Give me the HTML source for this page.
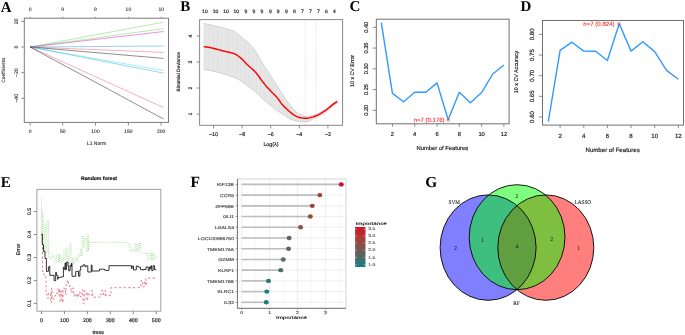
<!DOCTYPE html>
<html><head><meta charset="utf-8"><style>
html,body{margin:0;padding:0;background:#fff;width:685px;height:335px;overflow:hidden}
svg{display:block}

</style></head><body>
<svg width="685" height="335" viewBox="0 0 685 335" style="will-change:transform" text-rendering="geometricPrecision">
<g>
<text x="0.70" y="11.50" font-size="15" text-anchor="start" fill="#000" font-weight="bold" font-family="Liberation Serif">A</text>
<rect x="24.30" y="18.20" width="144.20" height="104.20" stroke="#7a7a7a" stroke-width="1.0" fill="none"/>
<line x1="30.10" y1="47.00" x2="163.60" y2="22.20" stroke="#61D04F" stroke-width="0.45"/>
<line x1="30.10" y1="47.00" x2="163.60" y2="28.60" stroke="#61D04F" stroke-width="0.45"/>
<line x1="30.10" y1="47.00" x2="163.60" y2="31.50" stroke="#CD0BBC" stroke-width="0.45"/>
<line x1="30.10" y1="47.00" x2="163.60" y2="46.00" stroke="#2297E6" stroke-width="0.45"/>
<line x1="30.10" y1="47.00" x2="163.60" y2="52.40" stroke="#DF536B" stroke-width="0.45"/>
<line x1="30.10" y1="47.00" x2="163.60" y2="58.40" stroke="#000000" stroke-width="0.45"/>
<line x1="30.10" y1="47.00" x2="163.60" y2="70.60" stroke="#28E2E5" stroke-width="0.45"/>
<line x1="30.10" y1="47.00" x2="163.60" y2="73.10" stroke="#2297E6" stroke-width="0.45"/>
<line x1="30.10" y1="47.00" x2="163.60" y2="107.60" stroke="#DF536B" stroke-width="0.45"/>
<line x1="30.10" y1="47.00" x2="163.60" y2="119.00" stroke="#000000" stroke-width="0.45"/>
<line x1="30.10" y1="122.40" x2="30.10" y2="125.60" stroke="#707070" stroke-width="0.8"/>
<text x="30.10" y="133.19" font-size="5.0" text-anchor="middle" fill="#222" font-weight="normal" font-family="Liberation Sans" stroke="#222" stroke-width="0.08">0</text>
<line x1="62.70" y1="122.40" x2="62.70" y2="125.60" stroke="#707070" stroke-width="0.8"/>
<text x="62.70" y="133.19" font-size="5.0" text-anchor="middle" fill="#222" font-weight="normal" font-family="Liberation Sans" stroke="#222" stroke-width="0.08">50</text>
<line x1="95.50" y1="122.40" x2="95.50" y2="125.60" stroke="#707070" stroke-width="0.8"/>
<text x="95.50" y="133.19" font-size="5.0" text-anchor="middle" fill="#222" font-weight="normal" font-family="Liberation Sans" stroke="#222" stroke-width="0.08">100</text>
<line x1="128.40" y1="122.40" x2="128.40" y2="125.60" stroke="#707070" stroke-width="0.8"/>
<text x="128.40" y="133.19" font-size="5.0" text-anchor="middle" fill="#222" font-weight="normal" font-family="Liberation Sans" stroke="#222" stroke-width="0.08">150</text>
<line x1="161.10" y1="122.40" x2="161.10" y2="125.60" stroke="#707070" stroke-width="0.8"/>
<text x="161.10" y="133.19" font-size="5.0" text-anchor="middle" fill="#222" font-weight="normal" font-family="Liberation Sans" stroke="#222" stroke-width="0.08">200</text>
<line x1="30.20" y1="18.20" x2="30.20" y2="16.90" stroke="#707070" stroke-width="0.7"/>
<text x="30.20" y="11.19" font-size="5.0" text-anchor="middle" fill="#222" font-weight="normal" font-family="Liberation Sans" stroke="#222" stroke-width="0.08">0</text>
<line x1="62.60" y1="18.20" x2="62.60" y2="16.90" stroke="#707070" stroke-width="0.7"/>
<text x="62.60" y="11.19" font-size="5.0" text-anchor="middle" fill="#222" font-weight="normal" font-family="Liberation Sans" stroke="#222" stroke-width="0.08">9</text>
<line x1="95.30" y1="18.20" x2="95.30" y2="16.90" stroke="#707070" stroke-width="0.7"/>
<text x="95.30" y="11.19" font-size="5.0" text-anchor="middle" fill="#222" font-weight="normal" font-family="Liberation Sans" stroke="#222" stroke-width="0.08">9</text>
<line x1="128.40" y1="18.20" x2="128.40" y2="16.90" stroke="#707070" stroke-width="0.7"/>
<text x="128.40" y="11.19" font-size="5.0" text-anchor="middle" fill="#222" font-weight="normal" font-family="Liberation Sans" stroke="#222" stroke-width="0.08">10</text>
<line x1="161.30" y1="18.20" x2="161.30" y2="16.90" stroke="#707070" stroke-width="0.7"/>
<text x="161.30" y="11.19" font-size="5.0" text-anchor="middle" fill="#222" font-weight="normal" font-family="Liberation Sans" stroke="#222" stroke-width="0.08">10</text>
<line x1="24.30" y1="21.40" x2="21.30" y2="21.40" stroke="#707070" stroke-width="0.8"/>
<text x="0" y="0" font-size="5.2" text-anchor="middle" fill="#222" font-weight="normal" font-family="Liberation Sans" transform="translate(17.56 21.40) rotate(-90)" stroke="#222" stroke-width="0.08">20</text>
<line x1="24.30" y1="47.00" x2="21.30" y2="47.00" stroke="#707070" stroke-width="0.8"/>
<text x="0" y="0" font-size="5.2" text-anchor="middle" fill="#222" font-weight="normal" font-family="Liberation Sans" transform="translate(17.56 47.00) rotate(-90)" stroke="#222" stroke-width="0.08">0</text>
<line x1="24.30" y1="72.70" x2="21.30" y2="72.70" stroke="#707070" stroke-width="0.8"/>
<text x="0" y="0" font-size="5.2" text-anchor="middle" fill="#222" font-weight="normal" font-family="Liberation Sans" transform="translate(17.56 72.70) rotate(-90)" stroke="#222" stroke-width="0.08">−20</text>
<line x1="24.30" y1="98.30" x2="21.30" y2="98.30" stroke="#707070" stroke-width="0.8"/>
<text x="0" y="0" font-size="5.2" text-anchor="middle" fill="#222" font-weight="normal" font-family="Liberation Sans" transform="translate(17.56 98.30) rotate(-90)" stroke="#222" stroke-width="0.08">−40</text>
<text x="0" y="0" font-size="4.8" text-anchor="middle" fill="#222" font-weight="normal" font-family="Liberation Sans" transform="translate(5.39 70.20) rotate(-90)" stroke="#222" stroke-width="0.08">Coefficients</text>
<text x="96.50" y="144.69" font-size="5.0" text-anchor="middle" fill="#222" font-weight="normal" font-family="Liberation Sans" stroke="#222" stroke-width="0.08">L1 Norm</text>
<text x="180.30" y="11.20" font-size="15" text-anchor="start" fill="#000" font-weight="bold" font-family="Liberation Serif">B</text>
<path d="M203.70,23.40 L206.28,23.96 L209.97,24.76 L214.11,25.68 L218.00,26.60 L221.76,27.56 L225.67,28.61 L229.24,29.60 L232.00,30.40 L233.63,30.90 L234.45,31.19 L234.94,31.47 L235.60,31.90 L236.50,32.56 L237.41,33.36 L238.31,34.19 L239.20,35.00 L240.08,35.75 L240.95,36.50 L241.82,37.25 L242.70,38.00 L243.59,38.76 L244.49,39.53 L245.40,40.31 L246.30,41.10 L247.20,41.90 L248.10,42.70 L249.00,43.53 L249.90,44.40 L250.81,45.32 L251.74,46.29 L252.64,47.28 L253.50,48.30 L254.28,49.28 L254.99,50.26 L255.71,51.33 L256.50,52.60 L257.36,54.16 L258.26,55.92 L259.20,57.77 L260.20,59.60 L261.28,61.41 L262.43,63.26 L263.58,65.08 L264.70,66.80 L265.77,68.39 L266.81,69.90 L267.83,71.36 L268.80,72.80 L269.68,74.17 L270.48,75.46 L271.31,76.83 L272.30,78.40 L273.50,80.26 L274.83,82.33 L276.23,84.48 L277.60,86.60 L278.99,88.74 L280.43,90.94 L281.80,93.05 L283.00,94.90 L283.93,96.39 L284.67,97.63 L285.38,98.77 L286.20,100.00 L287.18,101.37 L288.24,102.78 L289.33,104.17 L290.40,105.50 L291.43,106.76 L292.45,107.99 L293.47,109.14 L294.50,110.20 L295.54,111.15 L296.59,112.02 L297.65,112.80 L298.70,113.50 L299.78,114.12 L300.87,114.65 L301.93,115.11 L302.90,115.50 L303.75,115.82 L304.52,116.08 L305.26,116.26 L306.00,116.40 L306.74,116.48 L307.45,116.51 L308.19,116.48 L309.00,116.40 L309.89,116.26 L310.82,116.08 L311.83,115.82 L312.90,115.50 L314.07,115.09 L315.34,114.61 L316.63,114.07 L317.90,113.50 L319.13,112.89 L320.36,112.24 L321.58,111.54 L322.80,110.80 L324.02,110.02 L325.24,109.19 L326.47,108.32 L327.70,107.40 L328.95,106.38 L330.22,105.28 L331.48,104.18 L332.70,103.20 L333.99,102.30 L335.31,101.44 L336.48,100.71 L337.30,100.20 L337.30,103.20 L336.48,103.71 L335.31,104.42 L333.99,105.28 L332.70,106.20 L331.48,107.22 L330.22,108.37 L328.95,109.53 L327.70,110.60 L326.47,111.55 L325.24,112.45 L324.02,113.30 L322.80,114.10 L321.58,114.87 L320.36,115.59 L319.13,116.27 L317.90,116.90 L316.63,117.47 L315.34,117.99 L314.07,118.48 L312.90,119.00 L311.83,119.58 L310.82,120.20 L309.89,120.77 L309.00,121.20 L308.24,121.46 L307.58,121.59 L306.88,121.65 L306.00,121.70 L304.88,121.76 L303.61,121.80 L302.23,121.79 L300.80,121.70 L299.26,121.52 L297.61,121.26 L295.97,120.95 L294.50,120.60 L293.26,120.23 L292.18,119.84 L291.13,119.37 L290.00,118.80 L288.81,118.12 L287.61,117.35 L286.30,116.48 L284.80,115.50 L283.02,114.38 L281.02,113.14 L278.96,111.83 L277.00,110.50 L275.19,109.17 L273.46,107.80 L271.71,106.38 L269.90,104.90 L267.96,103.33 L265.95,101.68 L263.94,99.99 L262.00,98.30 L260.19,96.57 L258.45,94.81 L256.71,93.06 L254.90,91.40 L252.96,89.84 L250.94,88.34 L248.93,86.90 L247.00,85.50 L245.15,84.11 L243.36,82.76 L241.63,81.49 L240.00,80.40 L238.59,79.55 L237.35,78.89 L236.03,78.28 L234.40,77.60 L232.33,76.80 L229.98,75.94 L227.48,75.09 L225.00,74.30 L222.57,73.57 L220.12,72.88 L217.61,72.23 L215.00,71.60 L212.00,70.96 L208.72,70.33 L205.76,69.78 L203.70,69.40Z" fill="#f2f2f2" stroke="none"/>
<line x1="204.00" y1="23.47" x2="204.00" y2="69.46" stroke="#cbcbcb" stroke-width="0.45"/>
<line x1="205.35" y1="23.76" x2="205.35" y2="69.71" stroke="#cbcbcb" stroke-width="0.45"/>
<line x1="206.69" y1="24.05" x2="206.69" y2="69.96" stroke="#cbcbcb" stroke-width="0.45"/>
<line x1="208.04" y1="24.34" x2="208.04" y2="70.20" stroke="#cbcbcb" stroke-width="0.45"/>
<line x1="209.39" y1="24.63" x2="209.39" y2="70.46" stroke="#cbcbcb" stroke-width="0.45"/>
<line x1="210.73" y1="24.93" x2="210.73" y2="70.72" stroke="#cbcbcb" stroke-width="0.45"/>
<line x1="212.08" y1="25.23" x2="212.08" y2="70.98" stroke="#cbcbcb" stroke-width="0.45"/>
<line x1="213.43" y1="25.53" x2="213.43" y2="71.27" stroke="#cbcbcb" stroke-width="0.45"/>
<line x1="214.77" y1="25.84" x2="214.77" y2="71.55" stroke="#cbcbcb" stroke-width="0.45"/>
<line x1="216.12" y1="26.16" x2="216.12" y2="71.87" stroke="#cbcbcb" stroke-width="0.45"/>
<line x1="217.46" y1="26.47" x2="217.46" y2="72.19" stroke="#cbcbcb" stroke-width="0.45"/>
<line x1="218.81" y1="26.81" x2="218.81" y2="72.54" stroke="#cbcbcb" stroke-width="0.45"/>
<line x1="220.16" y1="27.15" x2="220.16" y2="72.89" stroke="#cbcbcb" stroke-width="0.45"/>
<line x1="221.50" y1="27.50" x2="221.50" y2="73.27" stroke="#cbcbcb" stroke-width="0.45"/>
<line x1="222.85" y1="27.85" x2="222.85" y2="73.65" stroke="#cbcbcb" stroke-width="0.45"/>
<line x1="224.20" y1="28.21" x2="224.20" y2="74.06" stroke="#cbcbcb" stroke-width="0.45"/>
<line x1="225.54" y1="28.57" x2="225.54" y2="74.47" stroke="#cbcbcb" stroke-width="0.45"/>
<line x1="226.89" y1="28.95" x2="226.89" y2="74.91" stroke="#cbcbcb" stroke-width="0.45"/>
<line x1="228.24" y1="29.32" x2="228.24" y2="75.35" stroke="#cbcbcb" stroke-width="0.45"/>
<line x1="229.58" y1="29.70" x2="229.58" y2="75.81" stroke="#cbcbcb" stroke-width="0.45"/>
<line x1="230.93" y1="30.09" x2="230.93" y2="76.29" stroke="#cbcbcb" stroke-width="0.45"/>
<line x1="232.28" y1="30.48" x2="232.28" y2="76.78" stroke="#cbcbcb" stroke-width="0.45"/>
<line x1="233.62" y1="30.90" x2="233.62" y2="77.30" stroke="#cbcbcb" stroke-width="0.45"/>
<line x1="234.97" y1="31.48" x2="234.97" y2="77.84" stroke="#cbcbcb" stroke-width="0.45"/>
<line x1="236.32" y1="32.43" x2="236.32" y2="78.41" stroke="#cbcbcb" stroke-width="0.45"/>
<line x1="237.66" y1="33.59" x2="237.66" y2="79.05" stroke="#cbcbcb" stroke-width="0.45"/>
<line x1="239.01" y1="34.83" x2="239.01" y2="79.80" stroke="#cbcbcb" stroke-width="0.45"/>
<line x1="240.35" y1="35.99" x2="240.35" y2="80.64" stroke="#cbcbcb" stroke-width="0.45"/>
<line x1="241.70" y1="37.14" x2="241.70" y2="81.55" stroke="#cbcbcb" stroke-width="0.45"/>
<line x1="243.05" y1="38.30" x2="243.05" y2="82.53" stroke="#cbcbcb" stroke-width="0.45"/>
<line x1="244.39" y1="39.45" x2="244.39" y2="83.54" stroke="#cbcbcb" stroke-width="0.45"/>
<line x1="245.74" y1="40.61" x2="245.74" y2="84.55" stroke="#cbcbcb" stroke-width="0.45"/>
<line x1="247.09" y1="41.80" x2="247.09" y2="85.56" stroke="#cbcbcb" stroke-width="0.45"/>
<line x1="248.43" y1="43.01" x2="248.43" y2="86.54" stroke="#cbcbcb" stroke-width="0.45"/>
<line x1="249.78" y1="44.28" x2="249.78" y2="87.50" stroke="#cbcbcb" stroke-width="0.45"/>
<line x1="251.13" y1="45.65" x2="251.13" y2="88.47" stroke="#cbcbcb" stroke-width="0.45"/>
<line x1="252.47" y1="47.10" x2="252.47" y2="89.47" stroke="#cbcbcb" stroke-width="0.45"/>
<line x1="253.82" y1="48.70" x2="253.82" y2="90.53" stroke="#cbcbcb" stroke-width="0.45"/>
<line x1="255.17" y1="50.51" x2="255.17" y2="91.64" stroke="#cbcbcb" stroke-width="0.45"/>
<line x1="256.51" y1="52.62" x2="256.51" y2="92.88" stroke="#cbcbcb" stroke-width="0.45"/>
<line x1="257.86" y1="55.14" x2="257.86" y2="94.21" stroke="#cbcbcb" stroke-width="0.45"/>
<line x1="259.21" y1="57.78" x2="259.21" y2="95.57" stroke="#cbcbcb" stroke-width="0.45"/>
<line x1="260.55" y1="60.19" x2="260.55" y2="96.92" stroke="#cbcbcb" stroke-width="0.45"/>
<line x1="261.90" y1="62.41" x2="261.90" y2="98.20" stroke="#cbcbcb" stroke-width="0.45"/>
<line x1="263.24" y1="64.55" x2="263.24" y2="99.39" stroke="#cbcbcb" stroke-width="0.45"/>
<line x1="264.59" y1="66.63" x2="264.59" y2="100.54" stroke="#cbcbcb" stroke-width="0.45"/>
<line x1="265.94" y1="68.64" x2="265.94" y2="101.67" stroke="#cbcbcb" stroke-width="0.45"/>
<line x1="267.28" y1="70.58" x2="267.28" y2="102.77" stroke="#cbcbcb" stroke-width="0.45"/>
<line x1="268.63" y1="72.55" x2="268.63" y2="103.87" stroke="#cbcbcb" stroke-width="0.45"/>
<line x1="269.98" y1="74.66" x2="269.98" y2="104.96" stroke="#cbcbcb" stroke-width="0.45"/>
<line x1="271.32" y1="76.84" x2="271.32" y2="106.06" stroke="#cbcbcb" stroke-width="0.45"/>
<line x1="272.67" y1="78.98" x2="272.67" y2="107.16" stroke="#cbcbcb" stroke-width="0.45"/>
<line x1="274.02" y1="81.07" x2="274.02" y2="108.24" stroke="#cbcbcb" stroke-width="0.45"/>
<line x1="275.36" y1="83.15" x2="275.36" y2="109.29" stroke="#cbcbcb" stroke-width="0.45"/>
<line x1="276.71" y1="85.23" x2="276.71" y2="110.28" stroke="#cbcbcb" stroke-width="0.45"/>
<line x1="278.06" y1="87.30" x2="278.06" y2="111.22" stroke="#cbcbcb" stroke-width="0.45"/>
<line x1="279.40" y1="89.37" x2="279.40" y2="112.11" stroke="#cbcbcb" stroke-width="0.45"/>
<line x1="280.75" y1="91.43" x2="280.75" y2="112.97" stroke="#cbcbcb" stroke-width="0.45"/>
<line x1="282.09" y1="93.50" x2="282.09" y2="113.81" stroke="#cbcbcb" stroke-width="0.45"/>
<line x1="283.44" y1="95.61" x2="283.44" y2="114.65" stroke="#cbcbcb" stroke-width="0.45"/>
<line x1="284.79" y1="97.81" x2="284.79" y2="115.49" stroke="#cbcbcb" stroke-width="0.45"/>
<line x1="286.13" y1="99.90" x2="286.13" y2="116.37" stroke="#cbcbcb" stroke-width="0.45"/>
<line x1="287.48" y1="101.76" x2="287.48" y2="117.27" stroke="#cbcbcb" stroke-width="0.45"/>
<line x1="288.83" y1="103.52" x2="288.83" y2="118.13" stroke="#cbcbcb" stroke-width="0.45"/>
<line x1="290.17" y1="105.22" x2="290.17" y2="118.89" stroke="#cbcbcb" stroke-width="0.45"/>
<line x1="291.52" y1="106.87" x2="291.52" y2="119.54" stroke="#cbcbcb" stroke-width="0.45"/>
<line x1="292.87" y1="108.46" x2="292.87" y2="120.09" stroke="#cbcbcb" stroke-width="0.45"/>
<line x1="294.21" y1="109.91" x2="294.21" y2="120.52" stroke="#cbcbcb" stroke-width="0.45"/>
<line x1="295.56" y1="111.17" x2="295.56" y2="120.85" stroke="#cbcbcb" stroke-width="0.45"/>
<line x1="296.91" y1="112.25" x2="296.91" y2="121.13" stroke="#cbcbcb" stroke-width="0.45"/>
<line x1="298.25" y1="113.20" x2="298.25" y2="121.36" stroke="#cbcbcb" stroke-width="0.45"/>
<line x1="299.60" y1="114.02" x2="299.60" y2="121.56" stroke="#cbcbcb" stroke-width="0.45"/>
<line x1="300.95" y1="114.68" x2="300.95" y2="121.71" stroke="#cbcbcb" stroke-width="0.45"/>
<line x1="302.29" y1="115.25" x2="302.29" y2="121.79" stroke="#cbcbcb" stroke-width="0.45"/>
<line x1="303.64" y1="115.78" x2="303.64" y2="121.80" stroke="#cbcbcb" stroke-width="0.45"/>
<line x1="304.98" y1="116.19" x2="304.98" y2="121.76" stroke="#cbcbcb" stroke-width="0.45"/>
<line x1="306.33" y1="116.44" x2="306.33" y2="121.68" stroke="#cbcbcb" stroke-width="0.45"/>
<line x1="307.68" y1="116.50" x2="307.68" y2="121.57" stroke="#cbcbcb" stroke-width="0.45"/>
<line x1="309.02" y1="116.40" x2="309.02" y2="121.19" stroke="#cbcbcb" stroke-width="0.45"/>
<line x1="310.37" y1="116.17" x2="310.37" y2="120.47" stroke="#cbcbcb" stroke-width="0.45"/>
<line x1="311.72" y1="115.85" x2="311.72" y2="119.65" stroke="#cbcbcb" stroke-width="0.45"/>
<line x1="313.06" y1="115.44" x2="313.06" y2="118.93" stroke="#cbcbcb" stroke-width="0.45"/>
<line x1="314.41" y1="114.97" x2="314.41" y2="118.35" stroke="#cbcbcb" stroke-width="0.45"/>
<line x1="315.76" y1="114.44" x2="315.76" y2="117.82" stroke="#cbcbcb" stroke-width="0.45"/>
<line x1="317.10" y1="113.86" x2="317.10" y2="117.26" stroke="#cbcbcb" stroke-width="0.45"/>
<line x1="318.45" y1="113.23" x2="318.45" y2="116.62" stroke="#cbcbcb" stroke-width="0.45"/>
<line x1="319.80" y1="112.54" x2="319.80" y2="115.90" stroke="#cbcbcb" stroke-width="0.45"/>
<line x1="321.14" y1="111.79" x2="321.14" y2="115.12" stroke="#cbcbcb" stroke-width="0.45"/>
<line x1="322.49" y1="110.99" x2="322.49" y2="114.29" stroke="#cbcbcb" stroke-width="0.45"/>
<line x1="323.84" y1="110.14" x2="323.84" y2="113.42" stroke="#cbcbcb" stroke-width="0.45"/>
<line x1="325.18" y1="109.24" x2="325.18" y2="112.49" stroke="#cbcbcb" stroke-width="0.45"/>
<line x1="326.53" y1="108.28" x2="326.53" y2="111.51" stroke="#cbcbcb" stroke-width="0.45"/>
<line x1="327.87" y1="107.26" x2="327.87" y2="110.45" stroke="#cbcbcb" stroke-width="0.45"/>
<line x1="329.22" y1="106.14" x2="329.22" y2="109.28" stroke="#cbcbcb" stroke-width="0.45"/>
<line x1="330.57" y1="104.97" x2="330.57" y2="108.05" stroke="#cbcbcb" stroke-width="0.45"/>
<line x1="331.91" y1="103.83" x2="331.91" y2="106.86" stroke="#cbcbcb" stroke-width="0.45"/>
<line x1="333.26" y1="102.81" x2="333.26" y2="105.80" stroke="#cbcbcb" stroke-width="0.45"/>
<line x1="334.61" y1="101.89" x2="334.61" y2="104.88" stroke="#cbcbcb" stroke-width="0.45"/>
<line x1="335.95" y1="101.04" x2="335.95" y2="104.03" stroke="#cbcbcb" stroke-width="0.45"/>
<line x1="337.30" y1="100.20" x2="337.30" y2="103.20" stroke="#cbcbcb" stroke-width="0.45"/>
<polyline points="203.70,23.40 206.28,23.96 209.97,24.76 214.11,25.68 218.00,26.60 221.76,27.56 225.67,28.61 229.24,29.60 232.00,30.40 233.63,30.90 234.45,31.19 234.94,31.47 235.60,31.90 236.50,32.56 237.41,33.36 238.31,34.19 239.20,35.00 240.08,35.75 240.95,36.50 241.82,37.25 242.70,38.00 243.59,38.76 244.49,39.53 245.40,40.31 246.30,41.10 247.20,41.90 248.10,42.70 249.00,43.53 249.90,44.40 250.81,45.32 251.74,46.29 252.64,47.28 253.50,48.30 254.28,49.28 254.99,50.26 255.71,51.33 256.50,52.60 257.36,54.16 258.26,55.92 259.20,57.77 260.20,59.60 261.28,61.41 262.43,63.26 263.58,65.08 264.70,66.80 265.77,68.39 266.81,69.90 267.83,71.36 268.80,72.80 269.68,74.17 270.48,75.46 271.31,76.83 272.30,78.40 273.50,80.26 274.83,82.33 276.23,84.48 277.60,86.60 278.99,88.74 280.43,90.94 281.80,93.05 283.00,94.90 283.93,96.39 284.67,97.63 285.38,98.77 286.20,100.00 287.18,101.37 288.24,102.78 289.33,104.17 290.40,105.50 291.43,106.76 292.45,107.99 293.47,109.14 294.50,110.20 295.54,111.15 296.59,112.02 297.65,112.80 298.70,113.50 299.78,114.12 300.87,114.65 301.93,115.11 302.90,115.50 303.75,115.82 304.52,116.08 305.26,116.26 306.00,116.40 306.74,116.48 307.45,116.51 308.19,116.48 309.00,116.40 309.89,116.26 310.82,116.08 311.83,115.82 312.90,115.50 314.07,115.09 315.34,114.61 316.63,114.07 317.90,113.50 319.13,112.89 320.36,112.24 321.58,111.54 322.80,110.80 324.02,110.02 325.24,109.19 326.47,108.32 327.70,107.40 328.95,106.38 330.22,105.28 331.48,104.18 332.70,103.20 333.99,102.30 335.31,101.44 336.48,100.71 337.30,100.20" stroke="#c4c4c4" stroke-width="0.7" fill="none" stroke-linejoin="round"/>
<polyline points="203.70,69.40 205.76,69.78 208.72,70.33 212.00,70.96 215.00,71.60 217.61,72.23 220.12,72.88 222.57,73.57 225.00,74.30 227.48,75.09 229.98,75.94 232.33,76.80 234.40,77.60 236.03,78.28 237.35,78.89 238.59,79.55 240.00,80.40 241.63,81.49 243.36,82.76 245.15,84.11 247.00,85.50 248.93,86.90 250.94,88.34 252.96,89.84 254.90,91.40 256.71,93.06 258.45,94.81 260.19,96.57 262.00,98.30 263.94,99.99 265.95,101.68 267.96,103.33 269.90,104.90 271.71,106.38 273.46,107.80 275.19,109.17 277.00,110.50 278.96,111.83 281.02,113.14 283.02,114.38 284.80,115.50 286.30,116.48 287.61,117.35 288.81,118.12 290.00,118.80 291.13,119.37 292.18,119.84 293.26,120.23 294.50,120.60 295.97,120.95 297.61,121.26 299.26,121.52 300.80,121.70 302.23,121.79 303.61,121.80 304.88,121.76 306.00,121.70 306.88,121.65 307.58,121.59 308.24,121.46 309.00,121.20 309.89,120.77 310.82,120.20 311.83,119.58 312.90,119.00 314.07,118.48 315.34,117.99 316.63,117.47 317.90,116.90 319.13,116.27 320.36,115.59 321.58,114.87 322.80,114.10 324.02,113.30 325.24,112.45 326.47,111.55 327.70,110.60 328.95,109.53 330.22,108.37 331.48,107.22 332.70,106.20 333.99,105.28 335.31,104.42 336.48,103.71 337.30,103.20" stroke="#c4c4c4" stroke-width="0.7" fill="none" stroke-linejoin="round"/>
<line x1="305.30" y1="19.60" x2="305.30" y2="125.30" stroke="#c8c8c8" stroke-width="0.55" stroke-dasharray="1.6,1.2"/>
<line x1="316.20" y1="19.60" x2="316.20" y2="125.30" stroke="#c8c8c8" stroke-width="0.55" stroke-dasharray="1.6,1.2"/>
<polyline points="203.80,46.70 204.85,46.82 206.36,46.99 208.08,47.21 209.80,47.50 211.45,47.87 213.16,48.31 214.97,48.79 216.90,49.30 219.06,49.85 221.40,50.46 223.74,51.06 225.90,51.60 227.89,52.07 229.79,52.49 231.52,52.90 233.00,53.30 234.10,53.65 234.91,53.94 235.66,54.32 236.60,54.90 237.81,55.72 239.15,56.71 240.57,57.85 242.00,59.10 243.42,60.49 244.86,62.02 246.37,63.64 248.00,65.30 249.86,67.01 251.89,68.79 253.90,70.60 255.70,72.40 257.20,74.19 258.52,75.99 259.75,77.77 261.00,79.50 262.26,81.16 263.49,82.78 264.73,84.36 266.00,85.90 267.32,87.40 268.68,88.86 270.05,90.29 271.40,91.70 272.73,93.04 274.06,94.32 275.38,95.64 276.70,97.10 278.05,98.82 279.42,100.71 280.75,102.57 282.00,104.20 283.13,105.51 284.17,106.61 285.18,107.61 286.20,108.60 287.25,109.59 288.31,110.54 289.36,111.44 290.40,112.30 291.43,113.12 292.45,113.91 293.47,114.64 294.50,115.30 295.54,115.88 296.59,116.38 297.65,116.82 298.70,117.20 299.78,117.51 300.87,117.76 301.93,117.95 302.90,118.10 303.77,118.21 304.56,118.27 305.29,118.29 306.00,118.30 306.62,118.30 307.17,118.29 307.76,118.23 308.50,118.10 309.45,117.89 310.54,117.61 311.71,117.28 312.90,116.90 314.11,116.47 315.37,115.99 316.64,115.47 317.90,114.90 319.13,114.29 320.36,113.64 321.58,112.94 322.80,112.20 324.02,111.42 325.24,110.59 326.47,109.72 327.70,108.80 328.95,107.78 330.22,106.67 331.48,105.58 332.70,104.60 333.99,103.70 335.31,102.84 336.48,102.11 337.30,101.60" stroke="#ff0000" stroke-width="1.45" fill="none" stroke-linejoin="round"/>
<rect x="199.60" y="19.60" width="143.00" height="105.70" stroke="#888888" stroke-width="1.0" fill="none"/>
<line x1="213.50" y1="125.30" x2="213.50" y2="128.30" stroke="#707070" stroke-width="0.8"/>
<text x="213.50" y="135.80" font-size="5.3" text-anchor="middle" fill="#222" font-weight="normal" font-family="Liberation Sans" stroke="#222" stroke-width="0.18">−10</text>
<line x1="242.10" y1="125.30" x2="242.10" y2="128.30" stroke="#707070" stroke-width="0.8"/>
<text x="242.10" y="135.80" font-size="5.3" text-anchor="middle" fill="#222" font-weight="normal" font-family="Liberation Sans" stroke="#222" stroke-width="0.18">−8</text>
<line x1="270.70" y1="125.30" x2="270.70" y2="128.30" stroke="#707070" stroke-width="0.8"/>
<text x="270.70" y="135.80" font-size="5.3" text-anchor="middle" fill="#222" font-weight="normal" font-family="Liberation Sans" stroke="#222" stroke-width="0.18">−6</text>
<line x1="299.30" y1="125.30" x2="299.30" y2="128.30" stroke="#707070" stroke-width="0.8"/>
<text x="299.30" y="135.80" font-size="5.3" text-anchor="middle" fill="#222" font-weight="normal" font-family="Liberation Sans" stroke="#222" stroke-width="0.18">−4</text>
<line x1="327.90" y1="125.30" x2="327.90" y2="128.30" stroke="#707070" stroke-width="0.8"/>
<text x="327.90" y="135.80" font-size="5.3" text-anchor="middle" fill="#222" font-weight="normal" font-family="Liberation Sans" stroke="#222" stroke-width="0.18">−2</text>
<line x1="199.60" y1="114.00" x2="196.60" y2="114.00" stroke="#707070" stroke-width="0.8"/>
<text x="0" y="0" font-size="5.0" text-anchor="middle" fill="#222" font-weight="normal" font-family="Liberation Sans" transform="translate(191.79 114.00) rotate(-90)" stroke="#222" stroke-width="0.18">1</text>
<line x1="199.60" y1="88.00" x2="196.60" y2="88.00" stroke="#707070" stroke-width="0.8"/>
<text x="0" y="0" font-size="5.0" text-anchor="middle" fill="#222" font-weight="normal" font-family="Liberation Sans" transform="translate(191.79 88.00) rotate(-90)" stroke="#222" stroke-width="0.18">2</text>
<line x1="199.60" y1="62.00" x2="196.60" y2="62.00" stroke="#707070" stroke-width="0.8"/>
<text x="0" y="0" font-size="5.0" text-anchor="middle" fill="#222" font-weight="normal" font-family="Liberation Sans" transform="translate(191.79 62.00) rotate(-90)" stroke="#222" stroke-width="0.18">3</text>
<line x1="199.60" y1="36.00" x2="196.60" y2="36.00" stroke="#707070" stroke-width="0.8"/>
<text x="0" y="0" font-size="5.0" text-anchor="middle" fill="#222" font-weight="normal" font-family="Liberation Sans" transform="translate(191.79 36.00) rotate(-90)" stroke="#222" stroke-width="0.18">4</text>
<text x="204.90" y="12.89" font-size="5.0" text-anchor="middle" fill="#222" font-weight="normal" font-family="Liberation Sans" stroke="#222" stroke-width="0.18">10</text>
<text x="215.50" y="12.89" font-size="5.0" text-anchor="middle" fill="#222" font-weight="normal" font-family="Liberation Sans" stroke="#222" stroke-width="0.18">10</text>
<text x="226.00" y="12.89" font-size="5.0" text-anchor="middle" fill="#222" font-weight="normal" font-family="Liberation Sans" stroke="#222" stroke-width="0.18">10</text>
<text x="236.30" y="12.89" font-size="5.0" text-anchor="middle" fill="#222" font-weight="normal" font-family="Liberation Sans" stroke="#222" stroke-width="0.18">10</text>
<text x="245.90" y="12.89" font-size="5.0" text-anchor="middle" fill="#222" font-weight="normal" font-family="Liberation Sans" stroke="#222" stroke-width="0.18">9</text>
<text x="254.00" y="12.89" font-size="5.0" text-anchor="middle" fill="#222" font-weight="normal" font-family="Liberation Sans" stroke="#222" stroke-width="0.18">9</text>
<text x="262.00" y="12.89" font-size="5.0" text-anchor="middle" fill="#222" font-weight="normal" font-family="Liberation Sans" stroke="#222" stroke-width="0.18">9</text>
<text x="270.30" y="12.89" font-size="5.0" text-anchor="middle" fill="#222" font-weight="normal" font-family="Liberation Sans" stroke="#222" stroke-width="0.18">9</text>
<text x="278.20" y="12.89" font-size="5.0" text-anchor="middle" fill="#222" font-weight="normal" font-family="Liberation Sans" stroke="#222" stroke-width="0.18">9</text>
<text x="286.30" y="12.89" font-size="5.0" text-anchor="middle" fill="#222" font-weight="normal" font-family="Liberation Sans" stroke="#222" stroke-width="0.18">9</text>
<text x="294.40" y="12.89" font-size="5.0" text-anchor="middle" fill="#222" font-weight="normal" font-family="Liberation Sans" stroke="#222" stroke-width="0.18">8</text>
<text x="302.30" y="12.89" font-size="5.0" text-anchor="middle" fill="#222" font-weight="normal" font-family="Liberation Sans" stroke="#222" stroke-width="0.18">7</text>
<text x="310.40" y="12.89" font-size="5.0" text-anchor="middle" fill="#222" font-weight="normal" font-family="Liberation Sans" stroke="#222" stroke-width="0.18">7</text>
<text x="318.50" y="12.89" font-size="5.0" text-anchor="middle" fill="#222" font-weight="normal" font-family="Liberation Sans" stroke="#222" stroke-width="0.18">7</text>
<text x="326.40" y="12.89" font-size="5.0" text-anchor="middle" fill="#222" font-weight="normal" font-family="Liberation Sans" stroke="#222" stroke-width="0.18">6</text>
<text x="334.50" y="12.89" font-size="5.0" text-anchor="middle" fill="#222" font-weight="normal" font-family="Liberation Sans" stroke="#222" stroke-width="0.18">4</text>
<text x="0" y="0" font-size="4.75" text-anchor="middle" fill="#222" font-weight="normal" font-family="Liberation Sans" transform="translate(180.10 71.80) rotate(-90)" stroke="#222" stroke-width="0.18">Binomial Deviance</text>
<text x="270.90" y="146.20" font-size="5.3" text-anchor="middle" fill="#222" font-weight="normal" font-family="Liberation Sans" stroke="#222" stroke-width="0.18">Log(λ)</text>
<text x="349.60" y="11.30" font-size="15" text-anchor="start" fill="#000" font-weight="bold" font-family="Liberation Serif">C</text>
<polyline points="381.30,22.70 392.44,93.40 403.59,101.70 414.74,92.30 425.88,92.30 437.02,82.90 448.17,119.70 459.31,92.30 470.46,102.80 481.61,92.60 492.75,74.00 503.89,65.00" stroke="#3399ff" stroke-width="1.4" fill="none" stroke-linejoin="round"/>
<rect x="376.30" y="19.20" width="132.80" height="104.60" stroke="#707070" stroke-width="1.0" fill="none"/>
<line x1="392.44" y1="123.80" x2="392.44" y2="126.80" stroke="#707070" stroke-width="0.8"/>
<text x="392.44" y="136.48" font-size="5.8" text-anchor="middle" fill="#222" font-weight="normal" font-family="Liberation Sans" stroke="#222" stroke-width="0.18">2</text>
<line x1="414.74" y1="123.80" x2="414.74" y2="126.80" stroke="#707070" stroke-width="0.8"/>
<text x="414.74" y="136.48" font-size="5.8" text-anchor="middle" fill="#222" font-weight="normal" font-family="Liberation Sans" stroke="#222" stroke-width="0.18">4</text>
<line x1="437.02" y1="123.80" x2="437.02" y2="126.80" stroke="#707070" stroke-width="0.8"/>
<text x="437.02" y="136.48" font-size="5.8" text-anchor="middle" fill="#222" font-weight="normal" font-family="Liberation Sans" stroke="#222" stroke-width="0.18">6</text>
<line x1="459.31" y1="123.80" x2="459.31" y2="126.80" stroke="#707070" stroke-width="0.8"/>
<text x="459.31" y="136.48" font-size="5.8" text-anchor="middle" fill="#222" font-weight="normal" font-family="Liberation Sans" stroke="#222" stroke-width="0.18">8</text>
<line x1="481.61" y1="123.80" x2="481.61" y2="126.80" stroke="#707070" stroke-width="0.8"/>
<text x="481.61" y="136.48" font-size="5.8" text-anchor="middle" fill="#222" font-weight="normal" font-family="Liberation Sans" stroke="#222" stroke-width="0.18">10</text>
<line x1="503.89" y1="123.80" x2="503.89" y2="126.80" stroke="#707070" stroke-width="0.8"/>
<text x="503.89" y="136.48" font-size="5.8" text-anchor="middle" fill="#222" font-weight="normal" font-family="Liberation Sans" stroke="#222" stroke-width="0.18">12</text>
<line x1="376.30" y1="27.30" x2="372.70" y2="27.30" stroke="#707070" stroke-width="0.8"/>
<text x="0" y="0" font-size="5.7" text-anchor="middle" fill="#222" font-weight="normal" font-family="Liberation Sans" transform="translate(367.74 27.30) rotate(-90)" stroke="#222" stroke-width="0.18">0.40</text>
<line x1="376.30" y1="48.05" x2="372.70" y2="48.05" stroke="#707070" stroke-width="0.8"/>
<text x="0" y="0" font-size="5.7" text-anchor="middle" fill="#222" font-weight="normal" font-family="Liberation Sans" transform="translate(367.74 48.05) rotate(-90)" stroke="#222" stroke-width="0.18">0.35</text>
<line x1="376.30" y1="68.80" x2="372.70" y2="68.80" stroke="#707070" stroke-width="0.8"/>
<text x="0" y="0" font-size="5.7" text-anchor="middle" fill="#222" font-weight="normal" font-family="Liberation Sans" transform="translate(367.74 68.80) rotate(-90)" stroke="#222" stroke-width="0.18">0.30</text>
<line x1="376.30" y1="89.55" x2="372.70" y2="89.55" stroke="#707070" stroke-width="0.8"/>
<text x="0" y="0" font-size="5.7" text-anchor="middle" fill="#222" font-weight="normal" font-family="Liberation Sans" transform="translate(367.74 89.55) rotate(-90)" stroke="#222" stroke-width="0.18">0.25</text>
<line x1="376.30" y1="110.30" x2="372.70" y2="110.30" stroke="#707070" stroke-width="0.8"/>
<text x="0" y="0" font-size="5.7" text-anchor="middle" fill="#222" font-weight="normal" font-family="Liberation Sans" transform="translate(367.74 110.30) rotate(-90)" stroke="#222" stroke-width="0.18">0.20</text>
<text x="0" y="0" font-size="5.3" text-anchor="middle" fill="#222" font-weight="normal" font-family="Liberation Sans" transform="translate(354.00 70.90) rotate(-90)" stroke="#222" stroke-width="0.18">10 x CV Error</text>
<text x="442.40" y="149.68" font-size="5.8" text-anchor="middle" fill="#222" font-weight="normal" font-family="Liberation Sans" stroke="#222" stroke-width="0.18">Number of Features</text>
<text x="444.60" y="121.95" font-size="6.0" text-anchor="end" fill="#ff2a2a" font-weight="normal" font-family="Liberation Sans" stroke="#ff2a2a" stroke-width="0.1">n=7 (0.176)</text>
<circle cx="448.4" cy="120.1" r="1.3" fill="none" stroke="#ff3030" stroke-width="0.6"/>
<text x="520.50" y="11.20" font-size="15" text-anchor="start" fill="#000" font-weight="bold" font-family="Liberation Serif">D</text>
<polyline points="548.30,121.60 560.12,50.30 571.94,42.20 583.76,51.10 595.58,51.30 607.40,60.50 619.22,23.70 631.04,51.10 642.86,41.70 654.68,51.60 666.50,70.40 678.32,79.30" stroke="#3399ff" stroke-width="1.4" fill="none" stroke-linejoin="round"/>
<rect x="542.50" y="20.50" width="141.00" height="104.60" stroke="#707070" stroke-width="1.0" fill="none"/>
<line x1="560.12" y1="125.10" x2="560.12" y2="128.10" stroke="#707070" stroke-width="0.8"/>
<text x="560.12" y="138.18" font-size="6.1" text-anchor="middle" fill="#222" font-weight="normal" font-family="Liberation Sans" stroke="#222" stroke-width="0.18">2</text>
<line x1="583.76" y1="125.10" x2="583.76" y2="128.10" stroke="#707070" stroke-width="0.8"/>
<text x="583.76" y="138.18" font-size="6.1" text-anchor="middle" fill="#222" font-weight="normal" font-family="Liberation Sans" stroke="#222" stroke-width="0.18">4</text>
<line x1="607.40" y1="125.10" x2="607.40" y2="128.10" stroke="#707070" stroke-width="0.8"/>
<text x="607.40" y="138.18" font-size="6.1" text-anchor="middle" fill="#222" font-weight="normal" font-family="Liberation Sans" stroke="#222" stroke-width="0.18">6</text>
<line x1="631.04" y1="125.10" x2="631.04" y2="128.10" stroke="#707070" stroke-width="0.8"/>
<text x="631.04" y="138.18" font-size="6.1" text-anchor="middle" fill="#222" font-weight="normal" font-family="Liberation Sans" stroke="#222" stroke-width="0.18">8</text>
<line x1="654.68" y1="125.10" x2="654.68" y2="128.10" stroke="#707070" stroke-width="0.8"/>
<text x="654.68" y="138.18" font-size="6.1" text-anchor="middle" fill="#222" font-weight="normal" font-family="Liberation Sans" stroke="#222" stroke-width="0.18">10</text>
<line x1="678.32" y1="125.10" x2="678.32" y2="128.10" stroke="#707070" stroke-width="0.8"/>
<text x="678.32" y="138.18" font-size="6.1" text-anchor="middle" fill="#222" font-weight="normal" font-family="Liberation Sans" stroke="#222" stroke-width="0.18">12</text>
<line x1="542.50" y1="34.40" x2="538.90" y2="34.40" stroke="#707070" stroke-width="0.8"/>
<text x="0" y="0" font-size="6.1" text-anchor="middle" fill="#222" font-weight="normal" font-family="Liberation Sans" transform="translate(533.68 34.40) rotate(-90)" stroke="#222" stroke-width="0.18">0.80</text>
<line x1="542.50" y1="55.05" x2="538.90" y2="55.05" stroke="#707070" stroke-width="0.8"/>
<text x="0" y="0" font-size="6.1" text-anchor="middle" fill="#222" font-weight="normal" font-family="Liberation Sans" transform="translate(533.68 55.05) rotate(-90)" stroke="#222" stroke-width="0.18">0.75</text>
<line x1="542.50" y1="75.70" x2="538.90" y2="75.70" stroke="#707070" stroke-width="0.8"/>
<text x="0" y="0" font-size="6.1" text-anchor="middle" fill="#222" font-weight="normal" font-family="Liberation Sans" transform="translate(533.68 75.70) rotate(-90)" stroke="#222" stroke-width="0.18">0.70</text>
<line x1="542.50" y1="96.35" x2="538.90" y2="96.35" stroke="#707070" stroke-width="0.8"/>
<text x="0" y="0" font-size="6.1" text-anchor="middle" fill="#222" font-weight="normal" font-family="Liberation Sans" transform="translate(533.68 96.35) rotate(-90)" stroke="#222" stroke-width="0.18">0.65</text>
<line x1="542.50" y1="117.00" x2="538.90" y2="117.00" stroke="#707070" stroke-width="0.8"/>
<text x="0" y="0" font-size="6.1" text-anchor="middle" fill="#222" font-weight="normal" font-family="Liberation Sans" transform="translate(533.68 117.00) rotate(-90)" stroke="#222" stroke-width="0.18">0.60</text>
<text x="0" y="0" font-size="5.4" text-anchor="middle" fill="#222" font-weight="normal" font-family="Liberation Sans" transform="translate(517.73 72.00) rotate(-90)" stroke="#222" stroke-width="0.18">10 x CV Accuracy</text>
<text x="612.60" y="151.58" font-size="6.1" text-anchor="middle" fill="#222" font-weight="normal" font-family="Liberation Sans" stroke="#222" stroke-width="0.18">Number of Features</text>
<text x="614.60" y="26.28" font-size="6.1" text-anchor="end" fill="#ff2a2a" font-weight="normal" font-family="Liberation Sans" stroke="#ff2a2a" stroke-width="0.1">n=7 (0.824)</text>
<circle cx="618.9" cy="23.9" r="1.3" fill="none" stroke="#ff3030" stroke-width="0.6"/>
<text x="0.80" y="187.20" font-size="15" text-anchor="start" fill="#000" font-weight="bold" font-family="Liberation Serif">E</text>
<polyline points="41.00,198.06 41.50,198.06 41.50,242.18 42.41,242.18 42.41,213.17 43.00,213.17 43.00,251.39 44.37,251.39 44.37,223.88 45.92,223.88 45.92,252.68 47.00,252.68 47.00,220.42 48.59,220.42 48.59,256.97 50.00,256.97 50.00,258.91 51.37,258.91 51.37,256.21 53.00,256.21 53.00,255.87 54.74,255.87 54.74,262.13 56.56,262.13 56.56,254.60 58.48,254.60 58.48,262.17 59.66,262.17 59.66,254.13 60.00,254.13 60.00,262.36 61.85,262.36 61.85,257.91 63.65,257.91 63.65,261.23 64.00,261.23 64.00,249.05 65.85,249.05 65.85,259.74 66.93,259.74 66.93,248.83 68.09,248.83 68.09,263.52 70.04,263.52 70.04,243.26 71.00,243.26 71.00,261.47 72.70,261.47 72.70,258.15 73.00,258.15 73.00,262.68 74.83,262.68 74.83,257.98 76.78,257.98 76.78,260.96 77.66,260.96 77.66,254.80 79.00,254.80 79.00,256.28 80.19,256.28 80.19,249.36 81.45,249.36 81.45,255.91 82.00,255.91 82.00,236.21 83.53,236.21 83.53,247.77 84.86,247.77 84.86,238.53 86.79,238.53 86.79,251.44 87.65,251.44 87.65,234.63 88.51,234.63 88.51,250.61 89.00,242.30 128.30,242.30 128.30,242.30 128.30,244.54 129.90,244.54 129.90,251.24 131.57,251.24 131.57,249.20 133.49,249.20 133.49,251.60 134.99,251.60 134.99,243.44 136.18,243.44 136.18,251.18 137.36,251.18 137.36,243.65 138.23,243.65 138.23,250.47 139.41,250.47 139.41,243.09 140.52,243.09 140.52,251.83 141.00,253.20 146.00,253.20 146.00,253.20 146.00,252.88 147.21,252.88 147.21,260.15 149.01,260.15 149.01,253.14 150.58,253.14 150.58,259.96 151.67,259.96 151.67,252.96 152.73,252.96 152.73,260.25 153.77,260.25 153.77,253.55 155.33,253.55 155.33,260.25" stroke="#61D04F" stroke-width="0.7" fill="none" stroke-linejoin="round" stroke-dasharray="0.7,1.4"/>
<polyline points="41.30,234.63 42.50,234.63 42.50,271.44 44.00,271.44 44.00,276.70 46.03,276.70 46.03,291.96 47.00,291.96 47.00,298.06 48.59,298.06 48.59,293.17 50.59,293.17 50.59,302.75 51.65,302.75 51.65,288.03 52.00,288.03 52.00,299.05 53.95,299.05 53.95,297.36 55.00,297.36 55.00,295.47 56.73,295.47 56.73,292.96 57.99,292.96 57.99,288.31 58.97,288.31 58.97,295.05 59.87,295.05 59.87,289.14 60.00,289.14 60.00,301.77 61.28,301.77 61.28,291.25 62.25,291.25 62.25,302.47 63.00,302.47 63.00,288.06 64.34,288.06 64.34,288.42 65.46,288.42 65.46,294.80 66.00,294.80 66.00,284.90 67.33,284.90 67.33,280.33 68.36,280.33 68.36,285.54 70.00,285.54 70.00,287.08 71.01,287.08 71.01,292.28 72.00,292.28 72.00,288.19 73.55,288.19 73.55,295.91 74.67,295.91 74.67,293.89 76.00,293.89 76.00,296.91 77.54,296.91 77.54,294.16 78.00,294.16 78.00,295.41 78.97,295.41 78.97,291.94 80.00,291.94 80.00,296.59 82.04,296.59 82.04,289.99 83.00,289.99 83.00,303.63 84.25,303.63 84.25,290.93 86.18,290.93 86.18,300.18 87.66,300.18 87.66,292.72 88.91,292.72 88.91,294.97 90.00,294.97 90.00,295.67 91.50,295.67 91.50,295.54 92.00,295.54 92.00,290.34 93.00,297.20 100.00,297.20 100.00,297.20 100.00,294.52 101.70,294.52 101.70,290.63 103.44,290.63 103.44,295.97 105.27,295.97 105.27,290.43 106.00,295.60 111.00,295.60 111.00,287.70 140.00,287.70 140.00,287.70 140.00,286.22 140.91,286.22 140.91,280.64 142.62,280.64 142.62,286.84 144.30,286.84 144.30,281.48 145.97,281.48 145.97,285.92 146.00,278.10 156.20,278.10" stroke="#DF536B" stroke-width="0.75" fill="none" stroke-linejoin="round" stroke-dasharray="2.3,2.3"/>
<polyline points="41.30,234.24 42.30,234.24 42.30,234.24 42.30,244.85 43.50,244.85 43.50,244.85 43.50,251.32 45.00,251.32 45.00,251.32 45.00,256.60 45.00,256.60 45.00,258.44 46.40,258.44 46.40,271.40 47.00,271.40 48.40,271.40 48.40,267.13 49.10,267.13 49.10,266.35 49.80,266.35 49.80,275.31 50.00,275.31 52.00,275.31 54.10,275.31 54.10,280.64 55.00,280.64 55.70,280.64 55.70,272.35 56.40,272.35 56.40,275.30 57.80,275.30 57.80,279.33 58.00,279.33 58.00,279.33 58.00,277.46 60.10,277.46 60.10,277.16 61.50,277.16 61.50,276.85 62.00,276.85 63.40,276.85 63.40,267.33 64.10,267.33 64.10,269.31 65.00,269.31 65.00,269.31 65.00,263.06 65.70,263.06 65.70,269.75 66.40,269.75 66.40,262.07 68.00,262.07 68.00,262.07 68.00,266.04 68.70,266.04 68.70,270.86 70.10,270.86 70.10,265.13 70.80,265.13 70.80,266.29 71.50,266.29 71.50,263.23 72.00,263.23 72.00,263.23 72.00,274.08 72.00,274.08 72.00,276.35 75.00,276.35 75.70,276.35 75.70,271.59 77.10,271.59 77.10,271.29 78.50,271.29 78.50,276.18 79.90,276.18 79.90,270.07 80.00,270.07 80.70,270.07 80.70,266.34 82.80,266.34 82.80,265.34 83.50,265.34 83.50,264.82 85.00,264.82 85.00,264.82 85.00,266.84 85.70,266.84 85.70,266.00 86.40,266.00 86.40,265.83 87.80,265.83 87.80,272.00 91.30,272.00 91.30,265.04 92.00,265.04 92.00,265.04 92.00,271.00 96.00,271.00 98.10,271.00 98.10,270.93 99.50,270.93 99.50,269.17 101.00,269.17 104.50,269.17 104.50,270.10 105.90,270.10 105.90,270.45 108.00,270.45 108.00,270.39 108.70,270.39 108.70,270.01 109.00,270.01 109.00,270.01 109.00,265.70 130.00,265.70 131.40,265.70 131.40,268.49 132.10,268.49 132.10,266.10 133.50,266.10 133.50,269.92 134.20,269.92 134.20,269.90 136.30,269.90 136.30,266.06 137.70,266.06 137.70,266.79 139.10,266.79 139.10,267.27 140.50,267.27 140.50,269.53 142.60,269.53 142.60,270.12 143.30,270.12 143.30,269.50 146.00,269.50 146.00,269.50 146.00,267.01 146.70,267.01 146.70,266.93 147.50,266.93 148.20,266.93 148.20,270.41 149.60,270.41 149.60,266.75 150.30,266.75 150.30,268.44 151.00,268.44 151.00,265.79 151.70,265.79 151.70,270.47 153.10,270.47 153.10,265.76 154.50,265.76 154.50,269.71 156.20,269.71" stroke="#000" stroke-width="0.8" fill="none" stroke-linejoin="round"/>
<rect x="36.90" y="189.40" width="123.90" height="121.80" stroke="#a0a0a0" stroke-width="1.0" fill="none"/>
<line x1="41.50" y1="311.20" x2="41.50" y2="314.20" stroke="#707070" stroke-width="0.8"/>
<text x="41.50" y="322.06" font-size="5.2" text-anchor="middle" fill="#222" font-weight="normal" font-family="Liberation Sans" stroke="#222" stroke-width="0.18">0</text>
<line x1="64.44" y1="311.20" x2="64.44" y2="314.20" stroke="#707070" stroke-width="0.8"/>
<text x="64.44" y="322.06" font-size="5.2" text-anchor="middle" fill="#222" font-weight="normal" font-family="Liberation Sans" stroke="#222" stroke-width="0.18">100</text>
<line x1="87.38" y1="311.20" x2="87.38" y2="314.20" stroke="#707070" stroke-width="0.8"/>
<text x="87.38" y="322.06" font-size="5.2" text-anchor="middle" fill="#222" font-weight="normal" font-family="Liberation Sans" stroke="#222" stroke-width="0.18">200</text>
<line x1="110.32" y1="311.20" x2="110.32" y2="314.20" stroke="#707070" stroke-width="0.8"/>
<text x="110.32" y="322.06" font-size="5.2" text-anchor="middle" fill="#222" font-weight="normal" font-family="Liberation Sans" stroke="#222" stroke-width="0.18">300</text>
<line x1="133.26" y1="311.20" x2="133.26" y2="314.20" stroke="#707070" stroke-width="0.8"/>
<text x="133.26" y="322.06" font-size="5.2" text-anchor="middle" fill="#222" font-weight="normal" font-family="Liberation Sans" stroke="#222" stroke-width="0.18">400</text>
<line x1="156.20" y1="311.20" x2="156.20" y2="314.20" stroke="#707070" stroke-width="0.8"/>
<text x="156.20" y="322.06" font-size="5.2" text-anchor="middle" fill="#222" font-weight="normal" font-family="Liberation Sans" stroke="#222" stroke-width="0.18">500</text>
<line x1="36.90" y1="303.50" x2="33.90" y2="303.50" stroke="#707070" stroke-width="0.8"/>
<text x="0" y="0" font-size="5.2" text-anchor="middle" fill="#222" font-weight="normal" font-family="Liberation Sans" transform="translate(31.36 303.50) rotate(-90)" stroke="#222" stroke-width="0.18">0.1</text>
<line x1="36.90" y1="280.50" x2="33.90" y2="280.50" stroke="#707070" stroke-width="0.8"/>
<text x="0" y="0" font-size="5.2" text-anchor="middle" fill="#222" font-weight="normal" font-family="Liberation Sans" transform="translate(31.36 280.50) rotate(-90)" stroke="#222" stroke-width="0.18">0.2</text>
<line x1="36.90" y1="257.50" x2="33.90" y2="257.50" stroke="#707070" stroke-width="0.8"/>
<text x="0" y="0" font-size="5.2" text-anchor="middle" fill="#222" font-weight="normal" font-family="Liberation Sans" transform="translate(31.36 257.50) rotate(-90)" stroke="#222" stroke-width="0.18">0.3</text>
<line x1="36.90" y1="234.50" x2="33.90" y2="234.50" stroke="#707070" stroke-width="0.8"/>
<text x="0" y="0" font-size="5.2" text-anchor="middle" fill="#222" font-weight="normal" font-family="Liberation Sans" transform="translate(31.36 234.50) rotate(-90)" stroke="#222" stroke-width="0.18">0.4</text>
<line x1="36.90" y1="211.50" x2="33.90" y2="211.50" stroke="#707070" stroke-width="0.8"/>
<text x="0" y="0" font-size="5.2" text-anchor="middle" fill="#222" font-weight="normal" font-family="Liberation Sans" transform="translate(31.36 211.50) rotate(-90)" stroke="#222" stroke-width="0.18">0.5</text>
<text x="0" y="0" font-size="5.2" text-anchor="middle" fill="#222" font-weight="normal" font-family="Liberation Sans" transform="translate(20.46 249.50) rotate(-90)" stroke="#222" stroke-width="0.18">Error</text>
<text x="99.00" y="179.73" font-size="5.1" text-anchor="middle" fill="#111" font-weight="bold" font-family="Liberation Sans" stroke="#111" stroke-width="0.18">Random forest</text>
<text x="98.20" y="334.46" font-size="5.2" text-anchor="middle" fill="#222" font-weight="normal" font-family="Liberation Sans" stroke="#222" stroke-width="0.18">trees</text>
<text x="190.50" y="187.20" font-size="15.5" text-anchor="start" fill="#000" font-weight="bold" font-family="Liberation Serif">F</text>
<line x1="255.65" y1="179.00" x2="255.65" y2="308.30" stroke="#f2f2f2" stroke-width="0.5"/>
<line x1="283.55" y1="179.00" x2="283.55" y2="308.30" stroke="#f2f2f2" stroke-width="0.5"/>
<line x1="311.45" y1="179.00" x2="311.45" y2="308.30" stroke="#f2f2f2" stroke-width="0.5"/>
<line x1="339.35" y1="179.00" x2="339.35" y2="308.30" stroke="#f2f2f2" stroke-width="0.5"/>
<line x1="241.70" y1="179.00" x2="241.70" y2="308.30" stroke="#e8e8e8" stroke-width="0.7"/>
<line x1="269.60" y1="179.00" x2="269.60" y2="308.30" stroke="#e8e8e8" stroke-width="0.7"/>
<line x1="297.50" y1="179.00" x2="297.50" y2="308.30" stroke="#e8e8e8" stroke-width="0.7"/>
<line x1="325.40" y1="179.00" x2="325.40" y2="308.30" stroke="#e8e8e8" stroke-width="0.7"/>
<line x1="237.40" y1="184.40" x2="346.00" y2="184.40" stroke="#e8e8e8" stroke-width="0.7"/>
<line x1="237.40" y1="195.12" x2="346.00" y2="195.12" stroke="#e8e8e8" stroke-width="0.7"/>
<line x1="237.40" y1="205.84" x2="346.00" y2="205.84" stroke="#e8e8e8" stroke-width="0.7"/>
<line x1="237.40" y1="216.56" x2="346.00" y2="216.56" stroke="#e8e8e8" stroke-width="0.7"/>
<line x1="237.40" y1="227.28" x2="346.00" y2="227.28" stroke="#e8e8e8" stroke-width="0.7"/>
<line x1="237.40" y1="238.00" x2="346.00" y2="238.00" stroke="#e8e8e8" stroke-width="0.7"/>
<line x1="237.40" y1="248.72" x2="346.00" y2="248.72" stroke="#e8e8e8" stroke-width="0.7"/>
<line x1="237.40" y1="259.44" x2="346.00" y2="259.44" stroke="#e8e8e8" stroke-width="0.7"/>
<line x1="237.40" y1="270.16" x2="346.00" y2="270.16" stroke="#e8e8e8" stroke-width="0.7"/>
<line x1="237.40" y1="280.88" x2="346.00" y2="280.88" stroke="#e8e8e8" stroke-width="0.7"/>
<line x1="237.40" y1="291.60" x2="346.00" y2="291.60" stroke="#e8e8e8" stroke-width="0.7"/>
<line x1="237.40" y1="302.32" x2="346.00" y2="302.32" stroke="#e8e8e8" stroke-width="0.7"/>
<rect x="237.40" y="179.00" width="108.60" height="129.30" stroke="#c4c4c4" stroke-width="0.7" fill="none"/>
<line x1="237.40" y1="179.00" x2="237.40" y2="308.30" stroke="#666" stroke-width="0.9"/>
<line x1="237.40" y1="308.30" x2="346.00" y2="308.30" stroke="#666" stroke-width="0.9"/>
<line x1="241.70" y1="184.40" x2="341.30" y2="184.40" stroke="#bdbdbd" stroke-width="1.6"/>
<ellipse cx="341.30" cy="184.40" rx="2.5" ry="2.2" fill="#cb1128"/>
<line x1="237.40" y1="184.40" x2="235.60" y2="184.40" stroke="#666" stroke-width="0.6"/>
<text x="0" y="0" font-size="4.1" text-anchor="end" fill="#4d4d4d" font-weight="normal" font-family="Liberation Sans" transform="translate(234.00 186.27) scale(1.25 1)" stroke="#4d4d4d" stroke-width="0.16">KIF13B</text>
<line x1="241.70" y1="195.12" x2="319.82" y2="195.12" stroke="#bdbdbd" stroke-width="1.6"/>
<ellipse cx="319.82" cy="195.12" rx="2.5" ry="2.2" fill="#aa3c37"/>
<line x1="237.40" y1="195.12" x2="235.60" y2="195.12" stroke="#666" stroke-width="0.6"/>
<text x="0" y="0" font-size="4.1" text-anchor="end" fill="#4d4d4d" font-weight="normal" font-family="Liberation Sans" transform="translate(234.00 196.99) scale(1.25 1)" stroke="#4d4d4d" stroke-width="0.16">CCR5</text>
<line x1="241.70" y1="205.84" x2="312.29" y2="205.84" stroke="#bdbdbd" stroke-width="1.6"/>
<ellipse cx="312.29" cy="205.84" rx="2.5" ry="2.2" fill="#9c453c"/>
<line x1="237.40" y1="205.84" x2="235.60" y2="205.84" stroke="#666" stroke-width="0.6"/>
<text x="0" y="0" font-size="4.1" text-anchor="end" fill="#4d4d4d" font-weight="normal" font-family="Liberation Sans" transform="translate(234.00 207.71) scale(1.25 1)" stroke="#4d4d4d" stroke-width="0.16">ZFP69B</text>
<line x1="241.70" y1="216.56" x2="310.33" y2="216.56" stroke="#bdbdbd" stroke-width="1.6"/>
<ellipse cx="310.33" cy="216.56" rx="2.5" ry="2.2" fill="#99483e"/>
<line x1="237.40" y1="216.56" x2="235.60" y2="216.56" stroke="#666" stroke-width="0.6"/>
<text x="0" y="0" font-size="4.1" text-anchor="end" fill="#4d4d4d" font-weight="normal" font-family="Liberation Sans" transform="translate(234.00 218.43) scale(1.25 1)" stroke="#4d4d4d" stroke-width="0.16">GLI1</text>
<line x1="241.70" y1="227.28" x2="300.57" y2="227.28" stroke="#bdbdbd" stroke-width="1.6"/>
<ellipse cx="300.57" cy="227.28" rx="2.5" ry="2.2" fill="#875445"/>
<line x1="237.40" y1="227.28" x2="235.60" y2="227.28" stroke="#666" stroke-width="0.6"/>
<text x="0" y="0" font-size="4.1" text-anchor="end" fill="#4d4d4d" font-weight="normal" font-family="Liberation Sans" transform="translate(234.00 229.15) scale(1.25 1)" stroke="#4d4d4d" stroke-width="0.16">LGALS4</text>
<line x1="241.70" y1="238.00" x2="289.13" y2="238.00" stroke="#bdbdbd" stroke-width="1.6"/>
<ellipse cx="289.13" cy="238.00" rx="2.5" ry="2.2" fill="#65655a"/>
<line x1="237.40" y1="238.00" x2="235.60" y2="238.00" stroke="#666" stroke-width="0.6"/>
<text x="0" y="0" font-size="4.1" text-anchor="end" fill="#4d4d4d" font-weight="normal" font-family="Liberation Sans" transform="translate(234.00 239.87) scale(1.25 1)" stroke="#4d4d4d" stroke-width="0.16">LOC100996750</text>
<line x1="241.70" y1="248.72" x2="288.57" y2="248.72" stroke="#bdbdbd" stroke-width="1.6"/>
<ellipse cx="288.57" cy="248.72" rx="2.5" ry="2.2" fill="#64665b"/>
<line x1="237.40" y1="248.72" x2="235.60" y2="248.72" stroke="#666" stroke-width="0.6"/>
<text x="0" y="0" font-size="4.1" text-anchor="end" fill="#4d4d4d" font-weight="normal" font-family="Liberation Sans" transform="translate(234.00 250.59) scale(1.25 1)" stroke="#4d4d4d" stroke-width="0.16">TMEM176A</text>
<line x1="241.70" y1="259.44" x2="283.27" y2="259.44" stroke="#bdbdbd" stroke-width="1.6"/>
<ellipse cx="283.27" cy="259.44" rx="2.5" ry="2.2" fill="#536e64"/>
<line x1="237.40" y1="259.44" x2="235.60" y2="259.44" stroke="#666" stroke-width="0.6"/>
<text x="0" y="0" font-size="4.1" text-anchor="end" fill="#4d4d4d" font-weight="normal" font-family="Liberation Sans" transform="translate(234.00 261.31) scale(1.25 1)" stroke="#4d4d4d" stroke-width="0.16">GZMM</text>
<line x1="241.70" y1="270.16" x2="280.76" y2="270.16" stroke="#bdbdbd" stroke-width="1.6"/>
<ellipse cx="280.76" cy="270.16" rx="2.5" ry="2.2" fill="#4a7068"/>
<line x1="237.40" y1="270.16" x2="235.60" y2="270.16" stroke="#666" stroke-width="0.6"/>
<text x="0" y="0" font-size="4.1" text-anchor="end" fill="#4d4d4d" font-weight="normal" font-family="Liberation Sans" transform="translate(234.00 272.03) scale(1.25 1)" stroke="#4d4d4d" stroke-width="0.16">KLRF1</text>
<line x1="241.70" y1="280.88" x2="268.48" y2="280.88" stroke="#bdbdbd" stroke-width="1.6"/>
<ellipse cx="268.48" cy="280.88" rx="2.5" ry="2.2" fill="#1c7d7c"/>
<line x1="237.40" y1="280.88" x2="235.60" y2="280.88" stroke="#666" stroke-width="0.6"/>
<text x="0" y="0" font-size="4.1" text-anchor="end" fill="#4d4d4d" font-weight="normal" font-family="Liberation Sans" transform="translate(234.00 282.75) scale(1.25 1)" stroke="#4d4d4d" stroke-width="0.16">TMEM176B</text>
<line x1="241.70" y1="291.60" x2="266.81" y2="291.60" stroke="#bdbdbd" stroke-width="1.6"/>
<ellipse cx="266.81" cy="291.60" rx="2.5" ry="2.2" fill="#167f7f"/>
<line x1="237.40" y1="291.60" x2="235.60" y2="291.60" stroke="#666" stroke-width="0.6"/>
<text x="0" y="0" font-size="4.1" text-anchor="end" fill="#4d4d4d" font-weight="normal" font-family="Liberation Sans" transform="translate(234.00 293.47) scale(1.25 1)" stroke="#4d4d4d" stroke-width="0.16">KLRC1</text>
<line x1="241.70" y1="302.32" x2="266.25" y2="302.32" stroke="#bdbdbd" stroke-width="1.6"/>
<ellipse cx="266.25" cy="302.32" rx="2.5" ry="2.2" fill="#148080"/>
<line x1="237.40" y1="302.32" x2="235.60" y2="302.32" stroke="#666" stroke-width="0.6"/>
<text x="0" y="0" font-size="4.1" text-anchor="end" fill="#4d4d4d" font-weight="normal" font-family="Liberation Sans" transform="translate(234.00 304.19) scale(1.25 1)" stroke="#4d4d4d" stroke-width="0.16">IL32</text>
<line x1="241.70" y1="308.30" x2="241.70" y2="309.90" stroke="#666" stroke-width="0.6"/>
<text x="0" y="0" font-size="4.1" text-anchor="middle" fill="#4d4d4d" font-weight="normal" font-family="Liberation Sans" transform="translate(241.70 313.87) scale(1.25 1)" stroke="#4d4d4d" stroke-width="0.16">0</text>
<line x1="269.60" y1="308.30" x2="269.60" y2="309.90" stroke="#666" stroke-width="0.6"/>
<text x="0" y="0" font-size="4.1" text-anchor="middle" fill="#4d4d4d" font-weight="normal" font-family="Liberation Sans" transform="translate(269.60 313.87) scale(1.25 1)" stroke="#4d4d4d" stroke-width="0.16">1</text>
<line x1="297.50" y1="308.30" x2="297.50" y2="309.90" stroke="#666" stroke-width="0.6"/>
<text x="0" y="0" font-size="4.1" text-anchor="middle" fill="#4d4d4d" font-weight="normal" font-family="Liberation Sans" transform="translate(297.50 313.87) scale(1.25 1)" stroke="#4d4d4d" stroke-width="0.16">2</text>
<line x1="325.40" y1="308.30" x2="325.40" y2="309.90" stroke="#666" stroke-width="0.6"/>
<text x="0" y="0" font-size="4.1" text-anchor="middle" fill="#4d4d4d" font-weight="normal" font-family="Liberation Sans" transform="translate(325.40 313.87) scale(1.25 1)" stroke="#4d4d4d" stroke-width="0.16">3</text>
<text x="0" y="0" font-size="4.4" text-anchor="middle" fill="#111" font-weight="normal" font-family="Liberation Sans" transform="translate(291.50 319.28) scale(1.42 1)" stroke="#111" stroke-width="0.12">Importance</text>
<text x="0" y="0" font-size="4.4" text-anchor="start" fill="#111" font-weight="normal" font-family="Liberation Sans" transform="translate(355.60 224.55) scale(1.42 1)" stroke="#111" stroke-width="0.12">Importance</text>
<defs><linearGradient id="lg" x1="0" y1="0" x2="0" y2="1"><stop offset="0" stop-color="#cd1028"/><stop offset="0.3" stop-color="#a8403a"/><stop offset="0.6" stop-color="#6f5a55"/><stop offset="1" stop-color="#148080"/></linearGradient></defs>
<rect x="355.1" y="227.0" width="10.4" height="40.0" fill="url(#lg)"/>
<line x1="355.20" y1="229.00" x2="357.20" y2="229.00" stroke="#fff" stroke-width="0.4"/>
<line x1="363.40" y1="229.00" x2="365.40" y2="229.00" stroke="#fff" stroke-width="0.4"/>
<text x="0" y="0" font-size="4.1" text-anchor="start" fill="#4d4d4d" font-weight="normal" font-family="Liberation Sans" transform="translate(368.20 230.17) scale(1.25 1)" stroke="#4d4d4d" stroke-width="0.12">3.5</text>
<line x1="355.20" y1="236.10" x2="357.20" y2="236.10" stroke="#fff" stroke-width="0.4"/>
<line x1="363.40" y1="236.10" x2="365.40" y2="236.10" stroke="#fff" stroke-width="0.4"/>
<text x="0" y="0" font-size="4.1" text-anchor="start" fill="#4d4d4d" font-weight="normal" font-family="Liberation Sans" transform="translate(368.20 237.27) scale(1.25 1)" stroke="#4d4d4d" stroke-width="0.12">3.0</text>
<line x1="355.20" y1="243.10" x2="357.20" y2="243.10" stroke="#fff" stroke-width="0.4"/>
<line x1="363.40" y1="243.10" x2="365.40" y2="243.10" stroke="#fff" stroke-width="0.4"/>
<text x="0" y="0" font-size="4.1" text-anchor="start" fill="#4d4d4d" font-weight="normal" font-family="Liberation Sans" transform="translate(368.20 244.27) scale(1.25 1)" stroke="#4d4d4d" stroke-width="0.12">2.5</text>
<line x1="355.20" y1="250.30" x2="357.20" y2="250.30" stroke="#fff" stroke-width="0.4"/>
<line x1="363.40" y1="250.30" x2="365.40" y2="250.30" stroke="#fff" stroke-width="0.4"/>
<text x="0" y="0" font-size="4.1" text-anchor="start" fill="#4d4d4d" font-weight="normal" font-family="Liberation Sans" transform="translate(368.20 251.47) scale(1.25 1)" stroke="#4d4d4d" stroke-width="0.12">2.0</text>
<line x1="355.20" y1="257.50" x2="357.20" y2="257.50" stroke="#fff" stroke-width="0.4"/>
<line x1="363.40" y1="257.50" x2="365.40" y2="257.50" stroke="#fff" stroke-width="0.4"/>
<text x="0" y="0" font-size="4.1" text-anchor="start" fill="#4d4d4d" font-weight="normal" font-family="Liberation Sans" transform="translate(368.20 258.67) scale(1.25 1)" stroke="#4d4d4d" stroke-width="0.12">1.5</text>
<line x1="355.20" y1="264.80" x2="357.20" y2="264.80" stroke="#fff" stroke-width="0.4"/>
<line x1="363.40" y1="264.80" x2="365.40" y2="264.80" stroke="#fff" stroke-width="0.4"/>
<text x="0" y="0" font-size="4.1" text-anchor="start" fill="#4d4d4d" font-weight="normal" font-family="Liberation Sans" transform="translate(368.20 265.97) scale(1.25 1)" stroke="#4d4d4d" stroke-width="0.12">1.0</text>
<text x="425.20" y="186.60" font-size="15.3" text-anchor="start" fill="#000" font-weight="bold" font-family="Liberation Serif">G</text>
<ellipse cx="488.1" cy="247.6" rx="48.0" ry="52.7" fill="#0000ff" fill-opacity="0.5"/>
<ellipse cx="545.8" cy="247.6" rx="48.0" ry="52.7" fill="#ff0000" fill-opacity="0.5"/>
<ellipse cx="517.1" cy="237.2" rx="47.9" ry="52.5" fill="#00ff00" fill-opacity="0.5"/>
<ellipse cx="488.1" cy="247.6" rx="48.0" ry="52.7" fill="none" stroke="#000" stroke-width="0.9"/>
<ellipse cx="545.8" cy="247.6" rx="48.0" ry="52.7" fill="none" stroke="#000" stroke-width="0.9"/>
<ellipse cx="517.1" cy="237.2" rx="47.9" ry="52.5" fill="none" stroke="#000" stroke-width="0.9"/>
<text x="0" y="0" font-size="5.8" text-anchor="middle" fill="#222" font-weight="normal" font-family="Liberation Serif" transform="translate(455.50 250.28) scale(0.91 1)" stroke="#222" stroke-width="0.1">2</text>
<text x="0" y="0" font-size="5.8" text-anchor="middle" fill="#222" font-weight="normal" font-family="Liberation Serif" transform="translate(482.50 241.98) scale(0.91 1)" stroke="#222" stroke-width="0.1">1</text>
<text x="0" y="0" font-size="5.8" text-anchor="middle" fill="#222" font-weight="normal" font-family="Liberation Serif" transform="translate(517.00 248.18) scale(0.91 1)" stroke="#222" stroke-width="0.1">4</text>
<text x="0" y="0" font-size="5.8" text-anchor="middle" fill="#222" font-weight="normal" font-family="Liberation Serif" transform="translate(516.90 197.78) scale(0.91 1)" stroke="#222" stroke-width="0.1">2</text>
<text x="0" y="0" font-size="5.8" text-anchor="middle" fill="#222" font-weight="normal" font-family="Liberation Serif" transform="translate(551.70 241.48) scale(0.91 1)" stroke="#222" stroke-width="0.1">2</text>
<text x="0" y="0" font-size="5.8" text-anchor="middle" fill="#222" font-weight="normal" font-family="Liberation Serif" transform="translate(578.50 250.08) scale(0.91 1)" stroke="#222" stroke-width="0.1">1</text>
<text x="0" y="0" font-size="5.8" text-anchor="middle" fill="#222" font-weight="normal" font-family="Liberation Serif" transform="translate(454.20 203.58) scale(0.91 1)" stroke="#222" stroke-width="0.1">SVM</text>
<text x="0" y="0" font-size="5.8" text-anchor="middle" fill="#222" font-weight="normal" font-family="Liberation Serif" transform="translate(582.80 203.78) scale(0.91 1)" stroke="#222" stroke-width="0.1">LASSO</text>
<text x="0" y="0" font-size="5.8" text-anchor="middle" fill="#222" font-weight="normal" font-family="Liberation Serif" transform="translate(516.50 304.78) scale(0.91 1)" stroke="#222" stroke-width="0.1">RF</text>
</g>
</svg></body></html>
